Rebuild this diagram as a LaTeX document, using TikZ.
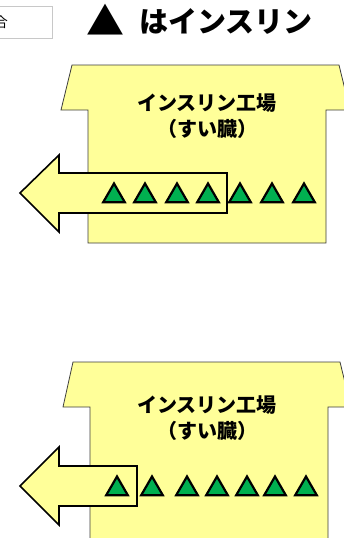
\documentclass[tikz,border=0pt]{standalone}
\usepackage{fontspec}
\usepackage{tikz}
\usetikzlibrary{shapes.geometric}
\newfontfamily\jpfont{Noto Sans CJK JP}
\definecolor{factoryyellow}{RGB}{255,255,153}
\definecolor{insulingreen}{RGB}{0,176,80}
\definecolor{framegray}{RGB}{200,200,200}
\definecolor{wallgray}{RGB}{60,60,60}
\tikzset{
    % Building and arrow styles
    factory/.style={
        draw=wallgray, line width=0.8pt, fill=factoryyellow
    },
    outflow/.style={
        draw=black, line width=1.6pt, fill=factoryyellow, line join=miter
    },
    insulin/.style={
        regular polygon, regular polygon sides=3, draw=black,
        line width=2.2pt, fill=insulingreen,
        minimum size=25pt, inner sep=0pt
    },
    factorylabel/.style={
        font=\jpfont\bfseries\fontsize{20}{26}\selectfont, align=center
    },
    titletext/.style={
        font=\jpfont\bfseries\fontsize{29}{29}\selectfont
    }
}

\begin{document}
\begin{tikzpicture}[x=1pt,y=-1pt]
\useasboundingbox (0,0) rectangle (343,538);

% Legend
\draw[framegray, line width=0.8pt] (-40,6) rectangle (52,38);
\node[font=\jpfont\fontsize{14}{14}\selectfont] (note) at (1,22) {合};
\node[font=\jpfont\fontsize{38}{38}\selectfont, inner sep=0pt] (mark) at (105,20) {▲};
\node[titletext, anchor=west, inner sep=0pt] (title) at (139,21) {はインスリン};

% Upper factory
\draw[factory] (72,65) -- (339,65) -- (350,110) -- (326,110) -- (326,243)
    -- (88,243) -- (88,110) -- (61,110) -- cycle;
\node[factorylabel] (label1) at (207,116) {インスリン工場\\（すい臓）};
\draw[outflow] (20,193) -- (59,155) -- (59,173) -- (227,173) -- (227,213)
    -- (59,213) -- (59,232) -- cycle;
\foreach \x [count=\i] in {114,145,177,208,240,272,304}
    \node[insulin] (a\i) at (\x,196) {};

% Lower factory
\draw[factory] (73,362) -- (340,362) -- (351,407) -- (328,407) -- (328,560)
    -- (90,560) -- (90,407) -- (63,407) -- cycle;
\node[factorylabel] (label2) at (207,418) {インスリン工場\\（すい臓）};
\draw[outflow] (20,486) -- (59,447) -- (59,466) -- (137,466) -- (137,506)
    -- (59,506) -- (59,525) -- cycle;
\foreach \x [count=\i] in {117,152,187,217,247,275,306}
    \node[insulin] (b\i) at (\x,489) {};

\end{tikzpicture}
\end{document}
